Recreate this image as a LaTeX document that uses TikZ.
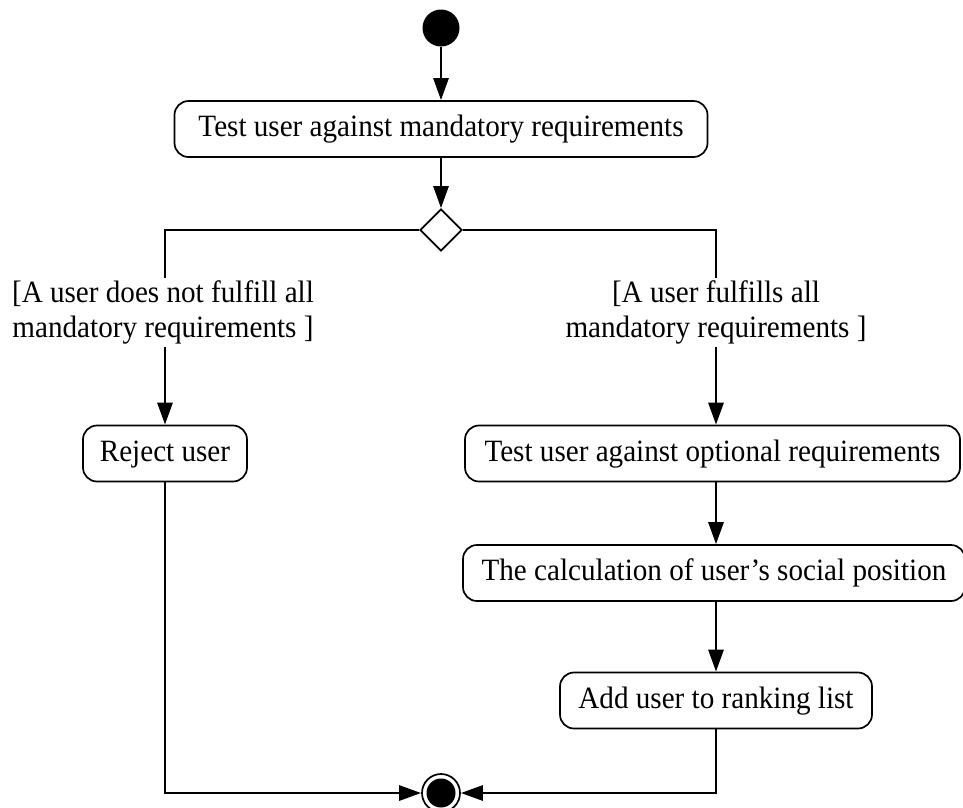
\documentclass[tikz,border=0pt]{standalone}
\usepackage{fontspec}
\setmainfont{Liberation Serif}[FakeStretch=0.94]
\usetikzlibrary{arrows.meta,shapes.geometric}
\begin{document}
\begin{tikzpicture}[x=1pt,y=-1pt,
  every node/.style={font=\fontsize{31}{35}\selectfont},
  actbox/.style={draw, line width=1.7pt, rounded corners=14pt, minimum height=56pt,
    inner xsep=0pt, inner ysep=0pt, text height=22pt, text depth=7pt},
  guard/.style={align=center, inner xsep=0pt, inner ysep=3pt},
  flow/.style={line width=2.8pt, -{Triangle[length=22pt,width=15pt]}},
  plainline/.style={line width=2.8pt}
]
\useasboundingbox (0,0) rectangle (963,807);
\node[circle, fill=black, minimum size=37pt, inner sep=0pt] (init) at (441,28) {};
\node[actbox, minimum width=533pt] (mand) at (441,129) {Test user against mandatory requirements};
\node[diamond, draw, line width=1.7pt, minimum width=42pt, minimum height=42pt, inner sep=0pt] (dec) at (441,230) {};
\node[guard] (gl) at (163,312.5) {[A user does not fulfill all\\mandatory requirements ]};
\node[guard] (gr) at (716,312.5) {[A user fulfills all\\mandatory requirements ]};
\node[actbox, minimum width=164pt] (rej) at (165,453.5) {Reject user};
\node[actbox, minimum width=495pt] (opt) at (712.5,453.5) {Test user against optional requirements};
\node[actbox, minimum width=502pt] (calc) at (714,573) {The calculation of user’s social position};
\node[actbox, minimum width=312pt] (add) at (716,700.5) {Add user to ranking list};
\node[circle, draw, line width=1.7pt, minimum size=38pt, inner sep=0pt] (fin) at (441,793) {};
\fill (fin.center) circle (14.5pt);
\draw[flow] (init) -- (mand);
\draw[flow] (mand) -- (dec);
\draw[plainline] (dec.west) -| (gl.north -| rej.north);
\draw[plainline] (dec.east) -| (gr.north -| add.north);
\draw[flow] (gl.south -| rej.north) -- (rej.north);
\draw[flow] (gr.south -| add.north) -- (opt.north -| add.north);
\draw[flow] (opt.south -| add.north) -- (calc.north -| add.north);
\draw[flow] (calc.south -| add.north) -- (add.north);
\draw[flow] (rej.south) |- (fin.west);
\draw[flow] (add.south) |- (fin.east);
\end{tikzpicture}
\end{document}
